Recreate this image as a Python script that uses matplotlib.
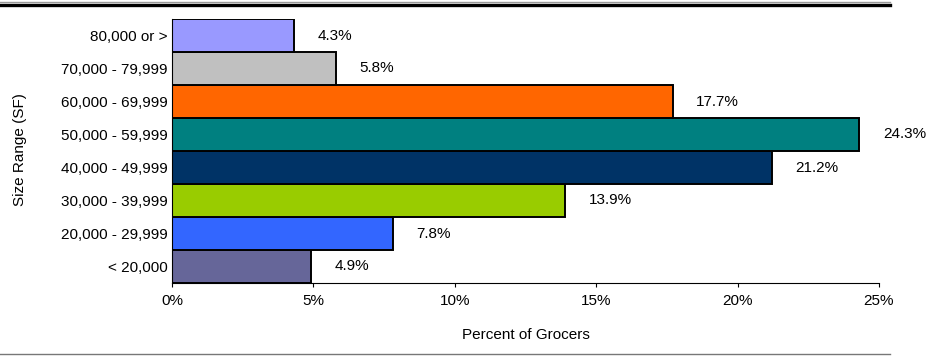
import numpy as np
import matplotlib
matplotlib.use("Agg")
import matplotlib.pyplot as plt
from matplotlib.lines import Line2D
from matplotlib.ticker import FuncFormatter

plt.rcParams['font.family'] = ['Liberation Sans', 'DejaVu Sans']

# data (bottom to top)
size_ranges = ["< 20,000", "20,000 - 29,999", "30,000 - 39,999", "40,000 - 49,999",
               "50,000 - 59,999", "60,000 - 69,999", "70,000 - 79,999", "80,000 or >"]
pct_grocers = [4.9, 7.8, 13.9, 21.2, 24.3, 17.7, 5.8, 4.3]
bar_colors = ["#666699", "#3366FF", "#99CC00", "#003366",
              "#008080", "#FF6600", "#C0C0C0", "#9999FF"]
x_ticks = [0, 5, 10, 15, 20, 25]

W, H = 929, 356
fig = plt.figure(figsize=(W / 100, H / 100), dpi=100)
ax = fig.add_axes([172 / W, (H - 283) / H, (879 - 172) / W, (283 - 19) / H])

y = np.arange(len(size_ranges))
ax.barh(y, pct_grocers, height=1.0, color=bar_colors, edgecolor="black", linewidth=1.4)

# value labels right of each bar
for yi, v in zip(y, pct_grocers):
    ax.annotate(f"{v}%", (v, yi), xytext=(17, 0), textcoords="offset points",
                ha="left", va="center", fontsize=11, clip_on=False)

ax.set_xlim(0, 25)
ax.set_ylim(-0.5, len(size_ranges) - 0.5)
ax.set_xticks(x_ticks)
ax.xaxis.set_major_formatter(FuncFormatter(lambda v, p: f"{v:.0f}%"))
ax.set_yticks(y)
ax.set_yticklabels(size_ranges)
ax.tick_params(axis="y", length=0, pad=3, labelsize=11)
ax.tick_params(axis="x", length=3, width=0.8, direction="out", pad=5, labelsize=11)

for s in ["top", "right"]:
    ax.spines[s].set_visible(False)
ax.spines["left"].set_linewidth(0.8)
ax.spines["bottom"].set_linewidth(0.8)

ax.set_xlabel("Percent of Grocers", fontsize=11, labelpad=14)
fig.text(20 / W, 1 - 150 / H, "Size Range (SF)", rotation=90, ha="center", va="center", fontsize=11)

# horizontal rules at top and bottom of the figure
fig.add_artist(Line2D([0, 890 / W], [1 - 2 / H, 1 - 2 / H], color="#999999", linewidth=1.0))
fig.add_artist(Line2D([0, 890 / W], [1 - 4.5 / H, 1 - 4.5 / H], color="black", linewidth=2.4))
fig.add_artist(Line2D([0, 890 / W], [1 - 354 / H, 1 - 354 / H], color="#777777", linewidth=1.0))

fig.savefig("out.png", dpi=100)
